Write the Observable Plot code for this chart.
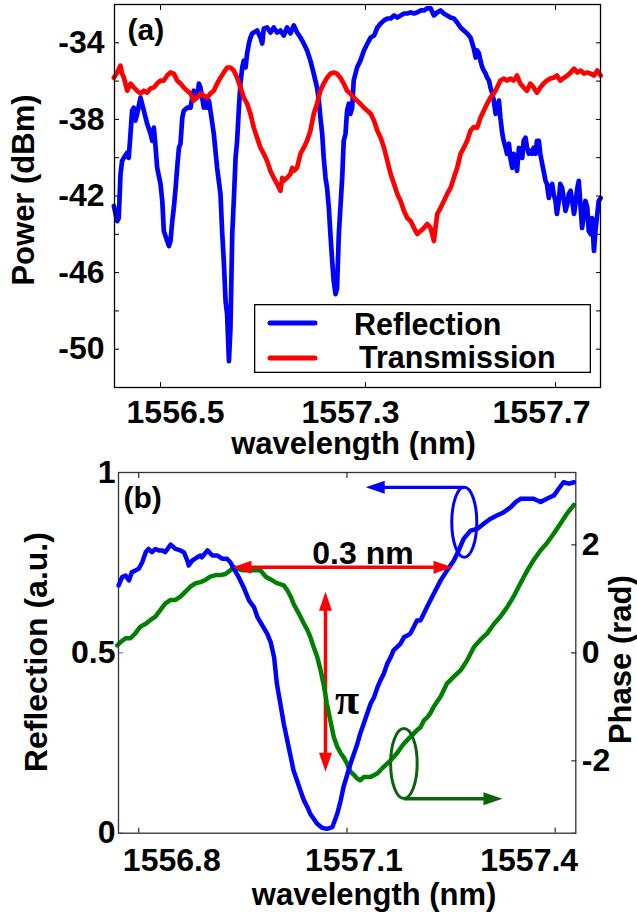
<!DOCTYPE html>
<html>
<head>
<meta charset="utf-8">
<script src="https://cdn.jsdelivr.net/npm/d3@7"></script>
<script src="https://cdn.jsdelivr.net/npm/@observablehq/plot@0.6"></script>
<style>
  html, body { margin: 0; padding: 0; background: #fff; overflow: hidden; }
  #wrap { position: relative; width: 637px; height: 918px; }
  .layer { position: absolute; left: 0; }
  svg { overflow: visible; }
</style>
</head>
<body>
<div id="wrap">
  <div id="pa" class="layer" style="top:0"></div>
  <div id="legend" class="layer" style="left:254px;top:304px"></div>
  <div id="pb2" class="layer" style="top:460px"></div>
  <div id="pb1" class="layer" style="top:460px"></div>
</div>
<script>
// ---------------- Panel (a) data ----------------
const xTicksA = [1556.5, 1557.3, 1557.7];
const yLabelsA = [-50, -46, -42, -38, -34];
const yTicksA = [-50, -48, -46, -44, -42, -40, -38, -36, -34];
const seriesNamesA = ["Reflection", "Transmission"];

const reflAWl = [1556.318,1556.331,1556.337,1556.344,1556.350,1556.357,1556.370,1556.376,1556.383,1556.389,1556.396,1556.402,1556.409,1556.422,1556.435,1556.448,1556.461,1556.468,1556.474,1556.481,1556.487,1556.500,1556.507,1556.513,1556.526,1556.533,1556.539,1556.546,1556.552,1556.559,1556.565,1556.572,1556.578,1556.585,1556.591,1556.604,1556.617,1556.624,1556.630,1556.643,1556.650,1556.656,1556.669,1556.676,1556.682,1556.689,1556.695,1556.708,1556.721,1556.734,1556.741,1556.747,1556.754,1556.760,1556.767,1556.773,1556.780,1556.786,1556.793,1556.799,1556.806,1556.812,1556.819,1556.825,1556.832,1556.838,1556.845,1556.851,1556.858,1556.877,1556.890,1556.897,1556.903,1556.916,1556.929,1556.942,1556.955,1556.968,1556.981,1556.994,1557.007,1557.020,1557.033,1557.046,1557.059,1557.072,1557.085,1557.098,1557.111,1557.118,1557.124,1557.131,1557.137,1557.144,1557.150,1557.157,1557.163,1557.170,1557.176,1557.183,1557.189,1557.196,1557.202,1557.209,1557.215,1557.222,1557.228,1557.235,1557.241,1557.248,1557.254,1557.267,1557.280,1557.294,1557.304,1557.311,1557.318,1557.325,1557.332,1557.339,1557.346,1557.353,1557.360,1557.367,1557.374,1557.381,1557.388,1557.395,1557.402,1557.409,1557.416,1557.423,1557.430,1557.437,1557.444,1557.451,1557.458,1557.465,1557.472,1557.479,1557.486,1557.493,1557.500,1557.507,1557.514,1557.521,1557.528,1557.532,1557.535,1557.539,1557.542,1557.546,1557.549,1557.553,1557.556,1557.560,1557.563,1557.567,1557.570,1557.574,1557.577,1557.581,1557.584,1557.588,1557.591,1557.595,1557.598,1557.602,1557.605,1557.609,1557.612,1557.616,1557.619,1557.623,1557.626,1557.630,1557.633,1557.637,1557.640,1557.644,1557.647,1557.651,1557.654,1557.658,1557.661,1557.665,1557.668,1557.672,1557.675,1557.679,1557.682,1557.686,1557.689,1557.693,1557.696,1557.700,1557.703,1557.707,1557.710,1557.714,1557.718,1557.721,1557.725,1557.728,1557.732,1557.735,1557.739,1557.742,1557.746,1557.749,1557.753,1557.756,1557.760,1557.763,1557.767,1557.770,1557.774,1557.777,1557.781,1557.784,1557.788,1557.791,1557.795];
const reflAPow = [-42.52,-43.31,-43.15,-40.85,-40.17,-40.01,-39.74,-40.01,-38.75,-37.55,-37.39,-38.07,-37.71,-36.86,-37.55,-38.23,-38.75,-39.12,-38.43,-39.48,-40.53,-41.37,-42.26,-43.83,-44.35,-44.61,-44.35,-43.31,-42.62,-41.58,-40.53,-39.48,-39.27,-37.91,-37.55,-37.39,-37.39,-36.86,-36.50,-36.86,-36.13,-36.34,-37.39,-37.02,-37.39,-37.02,-37.55,-38.75,-40.53,-41.89,-43.98,-45.40,-47.49,-48.17,-50.63,-48.91,-43.98,-42.26,-40.01,-39.12,-37.39,-36.13,-35.29,-34.93,-35.29,-34.56,-34.04,-33.72,-33.51,-33.36,-33.72,-34.04,-33.25,-33.20,-33.46,-33.20,-33.46,-33.36,-33.62,-33.20,-33.51,-33.09,-33.46,-33.72,-34.04,-34.40,-34.93,-35.61,-36.34,-37.02,-37.91,-38.75,-40.01,-41.05,-41.58,-42.62,-43.98,-45.40,-46.45,-47.13,-46.81,-43.98,-42.62,-41.05,-39.12,-38.75,-37.55,-37.18,-37.71,-37.39,-35.97,-35.29,-34.93,-34.40,-34.04,-33.72,-33.62,-33.20,-32.99,-32.83,-32.73,-32.73,-32.57,-32.68,-32.57,-32.47,-32.47,-32.41,-32.47,-32.41,-32.31,-32.31,-32.20,-32.20,-32.57,-32.41,-32.31,-32.47,-32.57,-32.68,-32.73,-32.94,-33.20,-33.36,-33.51,-33.72,-34.30,-34.77,-34.40,-34.56,-34.93,-35.29,-35.45,-35.61,-35.82,-35.97,-36.34,-36.65,-37.02,-37.71,-37.39,-37.02,-37.91,-38.75,-39.12,-39.48,-39.80,-39.27,-40.01,-40.53,-39.80,-40.17,-40.69,-39.48,-39.80,-40.01,-39.12,-38.96,-39.48,-39.80,-39.64,-39.80,-39.48,-39.80,-39.12,-39.12,-39.80,-40.32,-40.69,-41.21,-41.37,-42.10,-41.58,-41.37,-41.89,-42.26,-42.94,-42.26,-41.37,-41.58,-42.26,-42.78,-42.41,-41.89,-41.73,-42.26,-42.94,-42.41,-41.58,-41.21,-42.62,-43.67,-42.94,-42.26,-42.62,-43.83,-43.98,-43.15,-44.87,-43.83,-42.94,-42.26,-42.10];

const transAWl = [1556.318,1556.331,1556.344,1556.350,1556.357,1556.363,1556.370,1556.383,1556.396,1556.409,1556.422,1556.435,1556.448,1556.461,1556.474,1556.487,1556.500,1556.513,1556.526,1556.539,1556.552,1556.565,1556.578,1556.591,1556.604,1556.617,1556.630,1556.643,1556.656,1556.669,1556.682,1556.695,1556.708,1556.721,1556.734,1556.747,1556.760,1556.773,1556.786,1556.799,1556.812,1556.825,1556.838,1556.851,1556.864,1556.877,1556.890,1556.903,1556.916,1556.929,1556.942,1556.955,1556.968,1556.975,1556.981,1556.994,1557.007,1557.014,1557.020,1557.033,1557.046,1557.059,1557.072,1557.085,1557.098,1557.111,1557.124,1557.137,1557.150,1557.163,1557.176,1557.189,1557.202,1557.215,1557.228,1557.241,1557.254,1557.267,1557.280,1557.294,1557.304,1557.311,1557.318,1557.325,1557.332,1557.339,1557.346,1557.353,1557.360,1557.367,1557.374,1557.381,1557.388,1557.395,1557.402,1557.409,1557.416,1557.423,1557.430,1557.437,1557.444,1557.451,1557.458,1557.465,1557.472,1557.479,1557.486,1557.493,1557.500,1557.507,1557.514,1557.521,1557.528,1557.535,1557.542,1557.549,1557.556,1557.563,1557.570,1557.577,1557.584,1557.591,1557.598,1557.605,1557.612,1557.619,1557.626,1557.633,1557.640,1557.647,1557.654,1557.661,1557.668,1557.675,1557.682,1557.689,1557.696,1557.703,1557.710,1557.718,1557.725,1557.732,1557.739,1557.746,1557.753,1557.760,1557.767,1557.774,1557.781,1557.788,1557.795];
const transAPow = [-35.82,-35.55,-35.19,-35.61,-35.82,-36.13,-36.50,-36.13,-36.34,-36.50,-36.65,-36.50,-36.60,-36.39,-36.34,-36.13,-35.97,-35.97,-35.71,-35.55,-35.61,-35.97,-36.13,-36.34,-36.50,-36.65,-37.02,-36.86,-36.65,-36.76,-36.86,-36.65,-36.50,-36.13,-35.82,-35.55,-35.29,-35.29,-35.45,-35.82,-36.34,-36.86,-37.18,-37.71,-38.43,-38.96,-39.48,-39.80,-40.17,-40.69,-41.05,-41.37,-41.73,-41.05,-41.21,-41.05,-40.85,-40.53,-40.69,-40.53,-39.80,-39.48,-39.12,-38.59,-37.71,-37.18,-36.50,-36.13,-35.82,-35.61,-35.55,-35.61,-35.82,-36.13,-36.50,-36.65,-36.86,-37.02,-37.18,-37.39,-37.55,-37.71,-38.07,-38.59,-38.96,-39.48,-40.17,-40.85,-41.37,-41.89,-42.26,-42.78,-43.15,-43.31,-43.67,-43.98,-43.83,-43.67,-43.46,-43.67,-44.35,-42.94,-42.62,-42.26,-41.89,-41.58,-41.05,-40.53,-39.80,-39.48,-39.12,-38.59,-38.40,-38.43,-37.91,-37.55,-37.18,-36.86,-36.65,-36.34,-35.97,-35.87,-35.97,-35.87,-35.97,-35.71,-36.13,-36.34,-36.50,-36.13,-36.34,-36.60,-36.34,-36.13,-35.97,-35.87,-35.82,-35.71,-35.97,-35.82,-35.71,-35.55,-35.35,-35.55,-35.45,-35.61,-35.55,-35.61,-35.71,-35.45,-35.71];

// ---------------- Panel (b) data ----------------
const xTicksB = [1556.8, 1557.1, 1557.4];
const reflTicksB = [0, 0.5, 1];
const phaseTicksB = [-2, 0, 2];

const reflBWl = [1556.771,1556.776,1556.781,1556.786,1556.790,1556.795,1556.800,1556.805,1556.810,1556.814,1556.819,1556.824,1556.829,1556.834,1556.838,1556.846,1556.853,1556.860,1556.865,1556.870,1556.872,1556.877,1556.884,1556.889,1556.891,1556.899,1556.906,1556.913,1556.920,1556.927,1556.932,1556.937,1556.944,1556.951,1556.959,1556.966,1556.971,1556.978,1556.985,1556.990,1556.995,1556.999,1557.004,1557.009,1557.014,1557.019,1557.023,1557.028,1557.033,1557.038,1557.043,1557.047,1557.052,1557.057,1557.064,1557.071,1557.079,1557.086,1557.091,1557.095,1557.100,1557.105,1557.110,1557.115,1557.119,1557.124,1557.129,1557.134,1557.139,1557.144,1557.148,1557.153,1557.158,1557.163,1557.167,1557.172,1557.177,1557.182,1557.187,1557.191,1557.196,1557.201,1557.206,1557.216,1557.225,1557.235,1557.244,1557.254,1557.261,1557.268,1557.278,1557.288,1557.297,1557.307,1557.316,1557.326,1557.336,1557.343,1557.350,1557.360,1557.369,1557.379,1557.388,1557.398,1557.405,1557.412,1557.420,1557.427];
const reflB = [0.687,0.710,0.714,0.701,0.724,0.728,0.733,0.751,0.779,0.788,0.779,0.788,0.784,0.784,0.779,0.800,0.788,0.784,0.779,0.756,0.742,0.756,0.765,0.770,0.765,0.784,0.770,0.770,0.761,0.761,0.751,0.733,0.710,0.682,0.645,0.627,0.599,0.576,0.553,0.530,0.488,0.414,0.359,0.303,0.257,0.211,0.174,0.146,0.118,0.091,0.072,0.054,0.040,0.026,0.015,0.012,0.017,0.054,0.091,0.128,0.160,0.192,0.220,0.248,0.276,0.303,0.331,0.359,0.377,0.405,0.423,0.442,0.470,0.488,0.507,0.516,0.525,0.543,0.548,0.553,0.571,0.590,0.590,0.630,0.664,0.701,0.728,0.756,0.784,0.816,0.839,0.844,0.858,0.872,0.881,0.890,0.904,0.918,0.927,0.927,0.927,0.918,0.927,0.936,0.955,0.973,0.969,0.973];

const phaseBWl = [1556.769,1556.774,1556.781,1556.788,1556.795,1556.802,1556.810,1556.817,1556.824,1556.831,1556.838,1556.846,1556.853,1556.860,1556.867,1556.874,1556.882,1556.889,1556.896,1556.903,1556.911,1556.918,1556.925,1556.932,1556.937,1556.942,1556.949,1556.959,1556.968,1556.975,1556.983,1556.990,1556.999,1557.009,1557.014,1557.019,1557.023,1557.028,1557.033,1557.038,1557.043,1557.047,1557.052,1557.057,1557.062,1557.067,1557.071,1557.076,1557.081,1557.086,1557.091,1557.095,1557.100,1557.105,1557.110,1557.115,1557.119,1557.124,1557.134,1557.144,1557.153,1557.163,1557.172,1557.182,1557.191,1557.201,1557.206,1557.211,1557.216,1557.220,1557.225,1557.235,1557.244,1557.254,1557.264,1557.273,1557.283,1557.292,1557.302,1557.312,1557.321,1557.331,1557.340,1557.350,1557.360,1557.369,1557.379,1557.388,1557.398,1557.408,1557.417,1557.427];
const phaseB = [0.14,0.20,0.27,0.27,0.36,0.48,0.54,0.61,0.67,0.79,0.91,0.98,0.98,1.04,1.13,1.22,1.29,1.31,1.35,1.41,1.44,1.44,1.46,1.53,1.59,1.56,1.53,1.53,1.53,1.53,1.41,1.36,1.29,1.25,1.16,1.04,0.91,0.79,0.67,0.54,0.42,0.30,0.11,-0.07,-0.32,-0.63,-0.94,-1.25,-1.56,-1.74,-1.86,-1.93,-2.05,-2.20,-2.26,-2.33,-2.36,-2.30,-2.30,-2.23,-2.11,-1.99,-1.86,-1.68,-1.56,-1.43,-1.38,-1.25,-1.19,-1.12,-1.00,-0.81,-0.57,-0.44,-0.32,-0.14,0.11,0.24,0.36,0.54,0.67,0.85,1.04,1.29,1.53,1.72,1.90,2.03,2.21,2.40,2.58,2.74];

// annotations (data units)
const spanArrowWl = [1556.935, 1557.252];   // 0.3 nm double arrow ends
const spanArrowRefl = 0.737;
const spanLabel = "0.3 nm";
const spanLabelWl = 1557.123, spanLabelRefl = 0.775;
const piArrowWl = 1557.069;
const piArrowPhase = [1.13, -2.20];
const piLabel = "π";
const piLabelWl = 1557.100, piLabelPhase = -0.88;
const blueLoopWl = 1557.269, blueLoopRefl = 0.862;
const blueArrowWl = [1557.269, 1557.127], blueArrowRefl = 0.959;
const greenLoopWl = 1557.182, greenLoopPhase = -2.05;
const greenArrowWl = [1557.182, 1557.324], greenArrowPhase = -2.70;

// ---------------- styles ----------------
const FONT = "'Liberation Sans', Arial, sans-serif";
const BLUE = "#0000ff", RED = "#ff0000", GREEN = "#008000", DKGREEN = "#0b640b", TICKBLUE = "#5050ff";
const labelNudgeA = [15, -15, -14];   // tick-label horizontal offsets (px), as in the figure
const labelNudgeB = [33, 7, -26];
const HL = 19, HW = 13;
const headLeft  = {draw(c) { c.moveTo(0, 0); c.lineTo(HL, -HW / 2); c.lineTo(HL, HW / 2); c.closePath(); }};
const headRight = {draw(c) { c.moveTo(0, 0); c.lineTo(-HL, -HW / 2); c.lineTo(-HL, HW / 2); c.closePath(); }};
const headUp    = {draw(c) { c.moveTo(0, 0); c.lineTo(-HW / 2, HL); c.lineTo(HW / 2, HL); c.closePath(); }};
const headDown  = {draw(c) { c.moveTo(0, 0); c.lineTo(-HW / 2, -HL); c.lineTo(HW / 2, -HL); c.closePath(); }};
function ellipseSym(rx, ry) {
  const k = 0.5523;
  return {draw(c) {
    c.moveTo(rx, 0);
    c.bezierCurveTo(rx, ry * k, rx * k, ry, 0, ry);
    c.bezierCurveTo(-rx * k, ry, -rx, ry * k, -rx, 0);
    c.bezierCurveTo(-rx, -ry * k, -rx * k, -ry, 0, -ry);
    c.bezierCurveTo(rx * k, -ry, rx, -ry * k, rx, 0);
    c.closePath();
  }};
}
const fmtNum = d => String(d);
const noText = () => "";

// ---------------- Panel (a) ----------------
const plotA = Plot.plot({
  width: 637, height: 460,
  marginTop: 4, marginBottom: 73, marginLeft: 114, marginRight: 37,
  style: {fontFamily: FONT, fontWeight: "bold", background: "white", color: "black", overflow: "visible"},
  x: {type: "linear", domain: xTicksA, range: [160, 365, 555]},
  y: {type: "linear", domain: [-52, -32]},
  marks: [
    ...xTicksA.map((t, i) => Plot.axisX([t], {anchor: "bottom", tickSize: 0, tickPadding: 13, dx: labelNudgeA[i], tickFormat: d => d.toFixed(1), fontSize: 32, fontWeight: "bold", label: null})),
    Plot.axisX(xTicksA, {anchor: "bottom", tickSize: -5, tickFormat: noText, label: null}),
    Plot.axisX(xTicksA, {anchor: "top", tickSize: -5, tickFormat: noText, label: null}),
    Plot.axisY(yLabelsA, {anchor: "left", tickSize: 0, tickPadding: 10, tickFormat: fmtNum, fontSize: 32, fontWeight: "bold", label: null}),
    Plot.axisY(yTicksA, {anchor: "left", tickSize: -5, tickFormat: noText, label: null}),
    Plot.axisY(yTicksA, {anchor: "right", tickSize: -5, tickFormat: noText, label: null}),
    Plot.line(reflAPow, {x: reflAWl, y: reflAPow, stroke: BLUE, strokeWidth: 4.7, strokeLinejoin: "round"}),
    Plot.line(transAPow, {x: transAWl, y: transAPow, stroke: RED, strokeWidth: 4.7, strokeLinejoin: "round"}),
    Plot.frame({stroke: "black", strokeWidth: 1.3}),
    Plot.text(["(a)"], {text: d => d, frameAnchor: "top-left", dx: 13, dy: 14, textAnchor: "start", lineAnchor: "top", fontSize: 30, fontWeight: "bold"}),
    Plot.text(["wavelength (nm)"], {text: d => d, frameAnchor: "bottom", dx: -4, dy: 44, textAnchor: "middle", lineAnchor: "top", fontSize: 31, fontWeight: "bold"}),
    Plot.text(["Power (dBm)"], {text: d => d, frameAnchor: "left", dx: -90.5, dy: -6, rotate: -90, textAnchor: "middle", lineAnchor: "middle", fontSize: 31, fontWeight: "bold"})
  ]
});
document.getElementById("pa").append(plotA);

// legend for panel (a)
(function () {
  const w = 337, h = 69;
  const colors = [BLUE, RED];
  const textX = [100, 105];
  const lineY = [19, 54];
  const baseY = [31, 64];
  const svg = d3.create("svg").attr("width", w).attr("height", h).style("display", "block").style("overflow", "visible");
  svg.append("rect").attr("x", 0.65).attr("y", 0.65).attr("width", w - 1.3).attr("height", h - 1.3)
    .attr("fill", "white").attr("stroke", "black").attr("stroke-width", 1.3);
  seriesNamesA.forEach((name, i) => {
    svg.append("line").attr("x1", 16).attr("x2", 61).attr("y1", lineY[i]).attr("y2", lineY[i])
      .attr("stroke", colors[i]).attr("stroke-width", 5).attr("stroke-linecap", "round");
    svg.append("text").attr("x", textX[i]).attr("y", baseY[i]).text(name)
      .attr("font-family", FONT).attr("font-weight", "bold").attr("font-size", 30.5).attr("fill", "black");
  });
  document.getElementById("legend").append(svg.node());
})();

// ---------------- Panel (b) ----------------
const geomB = {
  width: 637, height: 458,
  marginTop: 12, marginBottom: 85.3, marginLeft: 118, marginRight: 61.7
};

// phase layer (bottom)
const plotB2 = Plot.plot({
  ...geomB,
  style: {fontFamily: FONT, fontWeight: "bold", background: "white", color: "black", overflow: "visible"},
  x: {type: "linear", domain: [1556.7708, 1557.4297], axis: null},
  y: {type: "linear", domain: [-3.34, 3.34]},
  marks: [
    Plot.axisY(phaseTicksB, {anchor: "right", tickSize: 0, tickPadding: 6, tickFormat: fmtNum, fontSize: 32, fontWeight: "bold", label: null}),
    Plot.axisY(phaseTicksB, {anchor: "right", tickSize: -5, tickFormat: noText, label: null}),
    Plot.text(["Phase (rad)"], {text: d => d, frameAnchor: "right", dx: 45.7, dy: 6.8, rotate: -90, textAnchor: "middle", lineAnchor: "middle", fontSize: 31, fontWeight: "bold"}),
    Plot.link([piArrowPhase], {x1: () => piArrowWl, x2: () => piArrowWl, y1: d => d[0] - 0.2, y2: d => d[1] + 0.2, stroke: RED, strokeWidth: 3.5}),
    Plot.dot([piArrowPhase[0]], {x: () => piArrowWl, y: d => d, symbol: headUp, fill: RED, stroke: "none"}),
    Plot.dot([piArrowPhase[1]], {x: () => piArrowWl, y: d => d, symbol: headDown, fill: RED, stroke: "none"}),
    Plot.text([piLabel], {text: d => d, x: () => piLabelWl, y: () => piLabelPhase, fontFamily: "'Liberation Serif', 'DejaVu Serif', serif", fontSize: 44, fontWeight: "bold", textAnchor: "middle"}),
    Plot.line(phaseB, {x: phaseBWl, y: phaseB, stroke: GREEN, strokeWidth: 4.5, strokeLinejoin: "round"}),
    Plot.dot([greenLoopPhase], {x: () => greenLoopWl, y: d => d, symbol: ellipseSym(13.3, 35), fill: "none", stroke: DKGREEN, strokeWidth: 3}),
    Plot.link([greenArrowWl], {x1: d => d[0], x2: d => d[1] - 0.02, y1: () => greenArrowPhase, y2: () => greenArrowPhase, stroke: DKGREEN, strokeWidth: 3.5}),
    Plot.dot([greenArrowWl[1]], {x: d => d, y: () => greenArrowPhase, symbol: headRight, fill: DKGREEN, stroke: "none"})
  ]
});
document.getElementById("pb2").append(plotB2);

// reflection layer (top, transparent)
const plotB1 = Plot.plot({
  ...geomB,
  style: {fontFamily: FONT, fontWeight: "bold", background: "transparent", color: "black", overflow: "visible"},
  x: {type: "linear", domain: [1556.7708, 1557.4297]},
  y: {type: "linear", domain: [0, 1]},
  marks: [
    ...xTicksB.map((t, i) => Plot.axisX([t], {anchor: "bottom", tickSize: 0, tickPadding: 15, dx: labelNudgeB[i], tickFormat: d => d.toFixed(1), fontSize: 32, fontWeight: "bold", label: null})),
    Plot.axisX(xTicksB, {anchor: "bottom", tickSize: -5, tickFormat: noText, label: null}),
    Plot.axisX(xTicksB, {anchor: "top", tickSize: -5, tickFormat: noText, label: null}),
    Plot.axisY(reflTicksB, {anchor: "left", tickSize: 0, tickPadding: 3, tickFormat: fmtNum, fontSize: 32, fontWeight: "bold", label: null}),
    Plot.axisY(reflTicksB, {anchor: "left", tickSize: -5, tickFormat: noText, stroke: TICKBLUE, label: null}),
    Plot.axisY(reflTicksB, {anchor: "right", tickSize: -5, tickFormat: noText, stroke: TICKBLUE, label: null}),
    Plot.frame({stroke: "#333", strokeWidth: 1.3}),
    Plot.line(reflB, {x: reflBWl, y: reflB, stroke: BLUE, strokeWidth: 4.5, strokeLinejoin: "round"}),
    Plot.link([spanArrowWl], {x1: d => d[0] + 0.02, x2: d => d[1] - 0.02, y1: () => spanArrowRefl, y2: () => spanArrowRefl, stroke: RED, strokeWidth: 3.5}),
    Plot.dot([spanArrowWl[0]], {x: d => d, y: () => spanArrowRefl, symbol: headLeft, fill: RED, stroke: "none"}),
    Plot.dot([spanArrowWl[1]], {x: d => d, y: () => spanArrowRefl, symbol: headRight, fill: RED, stroke: "none"}),
    Plot.text([spanLabel], {text: d => d, x: () => spanLabelWl, y: () => spanLabelRefl, fontSize: 32, fontWeight: "bold", textAnchor: "middle"}),
    Plot.dot([blueLoopRefl], {x: () => blueLoopWl, y: d => d, symbol: ellipseSym(12.5, 35), fill: "none", stroke: BLUE, strokeWidth: 3}),
    Plot.link([blueArrowWl], {x1: d => d[0], x2: d => d[1] + 0.02, y1: () => blueArrowRefl, y2: () => blueArrowRefl, stroke: BLUE, strokeWidth: 3.3}),
    Plot.dot([blueArrowWl[1]], {x: d => d, y: () => blueArrowRefl, symbol: headLeft, fill: BLUE, stroke: "none"}),
    Plot.text(["(b)"], {text: d => d, frameAnchor: "top-left", dx: 5, dy: 14, textAnchor: "start", lineAnchor: "top", fontSize: 30, fontWeight: "bold"}),
    Plot.text(["wavelength (nm)"], {text: d => d, frameAnchor: "bottom", dx: 27, dy: 50, textAnchor: "middle", lineAnchor: "top", fontSize: 31, fontWeight: "bold"}),
    Plot.text(["Reflection (a.u.)"], {text: d => d, frameAnchor: "left", dx: -81.5, dy: -0.7, rotate: -90, textAnchor: "middle", lineAnchor: "middle", fontSize: 32, fontWeight: "bold"})
  ]
});
document.getElementById("pb1").append(plotB1);
</script>
</body>
</html>
